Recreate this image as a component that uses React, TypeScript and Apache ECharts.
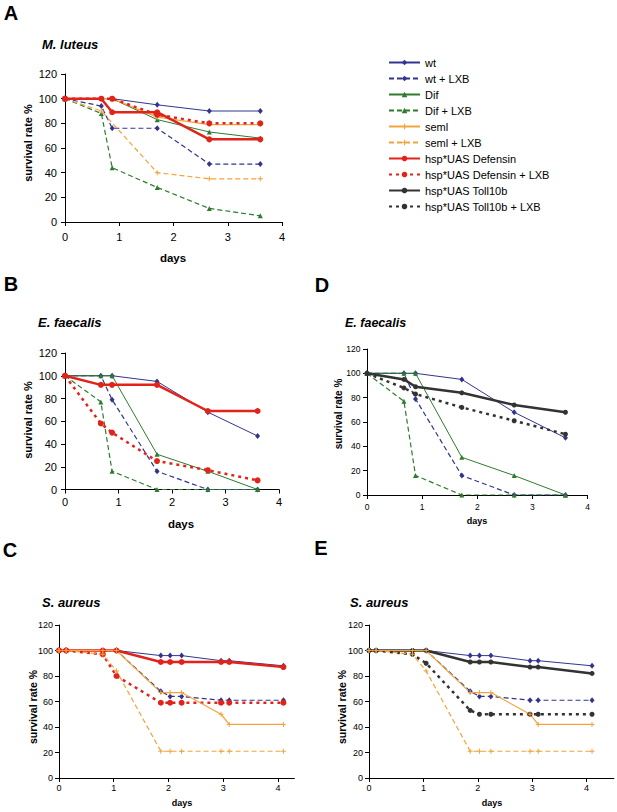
import React, { useEffect, useRef } from "react";
import * as echarts from "echarts";

// ---------- DATA ----------
const seriesNames = [
  "wt",
  "wt + LXB",
  "Dif",
  "Dif + LXB",
  "seml",
  "seml + LXB",
  "hsp*UAS Defensin",
  "hsp*UAS Defensin + LXB",
  "hsp*UAS Toll10b",
  "hsp*UAS Toll10b + LXB",
];

// Panel A – M. luteus
const daysA = [0, 0.67, 0.87, 1.7, 2.66, 3.6];
const aWt = [100, null, 100, 95, 90, 90];
const aWtLXB = [100, 94, 76, 76, 47, 47];
const aDif = [100, null, 100, 83, 73, 68];
const aDifLXB = [100, 88, 44, 28, 11, 5];
const aSeml = [100, null, 100, 85, 79, 79];
const aSemlLXB = [100, 90, null, 40, 35, 35];
const aDef = [100, 100, 89, 89, 67, 67];
const aDefLXB = [100, null, 100, 87, 80, 80];

// Panels B & D – E. faecalis
const daysB = [0, 0.67, 0.88, 1.72, 2.67, 3.6];
const bWt = [100, null, 100, 95, 68, 47];
const bWtLXB = [100, 100, 79, 16, 0, 0];
const bDif = [100, 100, 100, 31, 16, 0];
const bDifLXB = [100, 77, 16, 0, 0, 0];
const bDef = [100, 92, 92, 92, 69, 69];
const bDefLXB = [100, 58, 50, 25, 17, 8];
const dToll = [100, 95, 89, 84, 74, 68];
const dTollLXB = [100, 88, 83, 72, 61, 50];

// Panels C & E – S. aureus
const daysC = [0, 0.13, 0.8, 1.05, 1.86, 2.03, 2.24, 2.96, 3.11, 4.1];
const cWt = [100, 100, null, 100, 96, 96, 96, 92, 92, 88];
const cWtLXB = [100, 100, null, 100, 68, 64, 64, 61, 61, 61];
const cSeml = [100, 100, 100, 100, 67, 67, 67, 50, 42, 42];
const cSemlLXB = [100, 100, 97, 84, 21, 21, 21, 21, 21, 21];
const cDef = [100, 100, 100, 100, 91, 91, 91, 91, 91, 87];
const cDefLXB = [100, 100, 97, 80, 59, 59, 59, 59, 59, 59];
const eToll = [100, 100, 100, 100, 91, 91, 91, 87, 87, 82];
const eTollLXB = [100, 100, 97, 90, 53, 50, 50, 50, 50, 50];

const xTickLabels = ["0", "1", "2", "3", "4"];
const panelTitles = ["M. luteus", "E. faecalis", "E. faecalis", "S. aureus", "S. aureus"];
const panelLetters = ["A", "B", "D", "C", "E"];

// ---------- STYLES ----------
const FONT = "Arial, 'Liberation Sans', Helvetica, sans-serif";
const NAVY = "#33348f";
const GREEN = "#2e7b2e";
const ORANGE = "#f4a43c";
const RED = "#e2231a";
const DARK = "#333333";
const PLUS = "path://M2,0L3,0L3,2L5,2L5,3L3,3L3,5L2,5L2,3L0,3L0,2L2,2Z";

const styles: Record<string, any> = {
  "wt": { color: NAVY, width: 1, type: "solid", symbol: "diamond", size: [5, 6] },
  "wt + LXB": { color: NAVY, width: 1.2, type: [5, 3], symbol: "diamond", size: [5, 6] },
  "Dif": { color: GREEN, width: 1, type: "solid", symbol: "triangle", size: 5 },
  "Dif + LXB": { color: GREEN, width: 1.2, type: [5, 3], symbol: "triangle", size: 5 },
  "seml": { color: ORANGE, width: 1.2, type: "solid", symbol: PLUS, size: 5 },
  "seml + LXB": { color: ORANGE, width: 1.2, type: [5, 3], symbol: PLUS, size: 5 },
  "hsp*UAS Defensin": { color: RED, width: 2.5, type: "solid", symbol: "circle", size: 6 },
  "hsp*UAS Defensin + LXB": { color: RED, width: 2.5, type: [3, 4], symbol: "circle", size: 6 },
  "hsp*UAS Toll10b": { color: DARK, width: 2.5, type: "solid", symbol: "circle", size: 5 },
  "hsp*UAS Toll10b + LXB": { color: DARK, width: 2.5, type: [3, 4], symbol: "circle", size: 5 },
};

export default function App() {
  const ref = useRef<HTMLDivElement>(null);

  useEffect(() => {
    document.body.style.margin = "0";
    if (!ref.current) return;
    const chart = echarts.init(ref.current, null, { renderer: "svg" });

    const mk = (name: string, idx: number, xs: number[], ys: (number | null)[]) => {
      const s = styles[name];
      return {
        name,
        type: "line",
        xAxisIndex: idx,
        yAxisIndex: idx,
        data: xs.map((x, i) => [x, ys[i]]).filter((p) => p[1] != null),
        symbol: s.symbol,
        symbolSize: s.size,
        showSymbol: true,
        lineStyle: { color: s.color, width: s.width, type: s.type },
        itemStyle: { color: s.color, borderWidth: 0 },
        emphasis: { disabled: true },
        silent: true,
      };
    };

    // grids: A, B, D, C, E
    const grids = [
      { left: 65, top: 74, width: 217, height: 148, xmax: 4, fs: 11, xm: 9, ym: 8 },
      { left: 65, top: 353, width: 214, height: 136.5, xmax: 4, fs: 11, xm: 7, ym: 8 },
      { left: 367, top: 349, width: 220.5, height: 146, xmax: 4, fs: 8.5, xm: 7, ym: 6.5 },
      { left: 59, top: 625, width: 235.4, height: 153, xmax: 4.3, fs: 9, xm: 5, ym: 6 },
      { left: 369, top: 625, width: 244.8, height: 153, xmax: 4.5, fs: 9, xm: 5, ym: 6 },
    ];

    const axisLine = { show: true, lineStyle: { color: "#000", width: 1 } };
    const axisTick = { show: true, length: 4, lineStyle: { color: "#000", width: 1 } };

    const xAxis = grids.map((g, i) => ({
      type: "value",
      gridIndex: i,
      min: 0,
      max: g.xmax,
      interval: 1,
      splitLine: { show: false },
      axisLine,
      axisTick: { ...axisTick, customValues: [0, 1, 2, 3, 4] },
      axisLabel: {
        color: "#000",
        fontSize: g.fs,
        fontFamily: FONT,
        margin: g.xm,
        customValues: [0, 1, 2, 3, 4],
        formatter: (v: number) => (Number.isInteger(v) && v <= 4 ? xTickLabels[v] : ""),
      },
    }));

    const yAxis = grids.map((g, i) => ({
      type: "value",
      gridIndex: i,
      min: 0,
      max: 120,
      interval: 20,
      splitLine: { show: false },
      axisLine,
      axisTick,
      axisLabel: { color: "#000", fontSize: g.fs, fontFamily: FONT, margin: g.ym },
    }));

    const series = [
      // A
      mk("wt", 0, daysA, aWt),
      mk("wt + LXB", 0, daysA, aWtLXB),
      mk("Dif", 0, daysA, aDif),
      mk("Dif + LXB", 0, daysA, aDifLXB),
      mk("seml", 0, daysA, aSeml),
      mk("seml + LXB", 0, daysA, aSemlLXB),
      mk("hsp*UAS Defensin", 0, daysA, aDef),
      mk("hsp*UAS Defensin + LXB", 0, daysA, aDefLXB),
      // B
      mk("wt", 1, daysB, bWt),
      mk("wt + LXB", 1, daysB, bWtLXB),
      mk("Dif", 1, daysB, bDif),
      mk("Dif + LXB", 1, daysB, bDifLXB),
      mk("hsp*UAS Defensin", 1, daysB, bDef),
      mk("hsp*UAS Defensin + LXB", 1, daysB, bDefLXB),
      // D
      mk("wt", 2, daysB, bWt),
      mk("wt + LXB", 2, daysB, bWtLXB),
      mk("Dif", 2, daysB, bDif),
      mk("Dif + LXB", 2, daysB, bDifLXB),
      mk("hsp*UAS Toll10b", 2, daysB, dToll),
      mk("hsp*UAS Toll10b + LXB", 2, daysB, dTollLXB),
      // C
      mk("wt", 3, daysC, cWt),
      mk("wt + LXB", 3, daysC, cWtLXB),
      mk("hsp*UAS Defensin", 3, daysC, cDef),
      mk("hsp*UAS Defensin + LXB", 3, daysC, cDefLXB),
      mk("seml", 3, daysC, cSeml),
      mk("seml + LXB", 3, daysC, cSemlLXB),
      // E
      mk("wt", 4, daysC, cWt),
      mk("wt + LXB", 4, daysC, cWtLXB),
      mk("hsp*UAS Toll10b", 4, daysC, eToll),
      mk("hsp*UAS Toll10b + LXB", 4, daysC, eTollLXB),
      mk("seml", 4, daysC, cSeml),
      mk("seml + LXB", 4, daysC, cSemlLXB),
    ];

    const txt = (text: string, x: number, y: number, font: string, extra: any = {}) => ({
      type: "text",
      x,
      y,
      silent: true,
      ...extra,
      style: { text, font, fill: "#000", textAlign: "center", textVerticalAlign: "middle", ...(extra.style || {}) },
    });

    const letterPos = [
      [11, 13],
      [11, 284],
      [322, 285],
      [10, 550],
      [321, 548],
    ];
    const titlePos = [
      [42, 44, 13],
      [38, 322, 13],
      [345, 323, 12.5],
      [42, 602, 13],
      [350, 602, 13],
    ];
    const yNamePos = [
      [28, 143, 11],
      [28, 420, 11],
      [338, 414, 10],
      [33, 707, 10.5],
      [342, 707, 10.5],
    ];
    const daysPos = [
      [173, 258, 11.5],
      [181, 524, 11.5],
      [477, 521, 9],
      [182, 803, 9],
      [492, 803, 9],
    ];

    const graphic: any[] = [];
    panelLetters.forEach((l, i) => {
      graphic.push(txt(l, letterPos[i][0], letterPos[i][1], `bold 20px ${FONT}`));
    });
    panelTitles.forEach((t, i) => {
      graphic.push(
        txt(t, titlePos[i][0], titlePos[i][1], `italic bold ${titlePos[i][2]}px ${FONT}`, {
          style: { textAlign: "left" },
        })
      );
    });
    yNamePos.forEach((p) => {
      graphic.push(txt("survival rate %", p[0], p[1], `bold ${p[2]}px ${FONT}`, { rotation: Math.PI / 2 }));
    });
    daysPos.forEach((p) => {
      graphic.push(txt("days", p[0], p[1], `bold ${p[2]}px ${FONT}`));
    });

    chart.setOption({
      animation: false,
      backgroundColor: "#fff",
      textStyle: { fontFamily: FONT },
      grid: grids.map((g) => ({ left: g.left, top: g.top, width: g.width, height: g.height, containLabel: false })),
      xAxis,
      yAxis,
      legend: {
        data: seriesNames,
        orient: "vertical",
        left: 388,
        top: 57,
        padding: 0,
        itemWidth: 31,
        itemHeight: 7,
        itemGap: 5,
        selectedMode: false,
        textStyle: { fontSize: 11, color: "#000", fontFamily: FONT },
      },
      series,
      graphic,
    });

    return () => chart.dispose();
  }, []);

  return <div ref={ref} style={{ width: 617, height: 812 }} />;
}
